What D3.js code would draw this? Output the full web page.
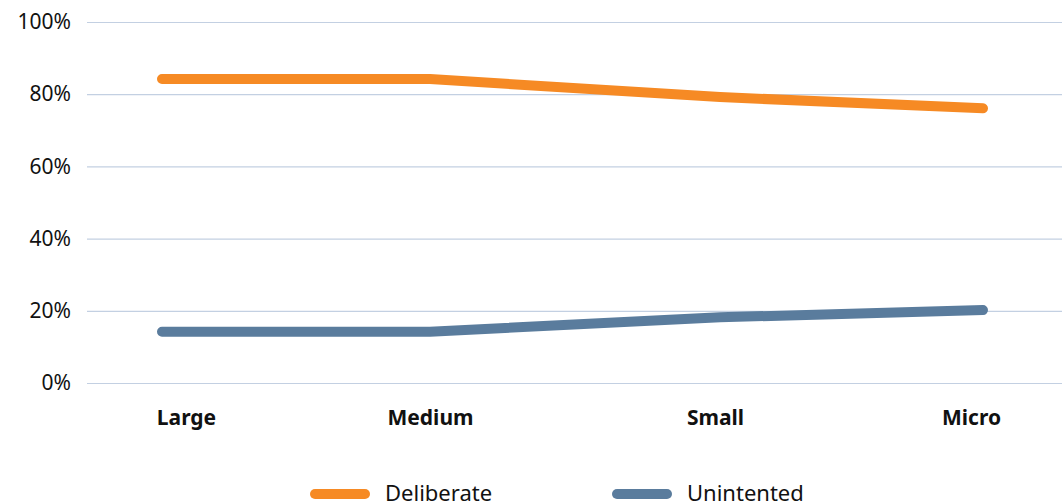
<!DOCTYPE html>
<html>
<head>
<meta charset="utf-8">
<script src="https://cdn.jsdelivr.net/npm/d3@7"></script>
<style>
  html, body { margin: 0; padding: 0; background: #fff; }
  svg { display: block; }
  text { font-family: "Noto Sans", "Open Sans", sans-serif; fill: #111; }
</style>
</head>
<body>
<svg id="chart" width="1062" height="504"></svg>
<script>
// Share of responses by company size
const categories = ["Large", "Medium", "Small", "Micro"];
const deliberate = [84.2, 84.2, 79.2, 76.1];
const unintented = [14.2, 14.2, 18.2, 20.2];
const yTicks = [0, 20, 40, 60, 80, 100];
const seriesNames = ["Deliberate", "Unintented"];
const seriesColors = ["#f68a24", "#5a7c9d"];

const svg = d3.select("#chart");
const W = 1062;
const plotLeft = 87, plotTop = 22, plotBottom = 383;
const fontStack = "'Noto Sans', 'Open Sans', sans-serif";

const y = d3.scaleLinear().domain([0, 100]).range([plotBottom, plotTop]);
// Category positions along the axis
const xPos = d3.scaleOrdinal().domain(categories).range([162, 430, 720, 983]);
const xLabel = d3.scaleOrdinal().domain(categories).range([186, 430, 715, 971]);

// Gridlines and y labels
const yAxis = d3.axisLeft(y).tickValues(yTicks).tickSize(-(W - plotLeft)).tickFormat(d => d + "%");
const gy = svg.append("g").attr("transform", `translate(${plotLeft},0)`).call(yAxis);
gy.select(".domain").remove();
gy.selectAll(".tick line").attr("stroke", "#c3d0e2").attr("stroke-width", 1.2);
gy.selectAll(".tick text").attr("x", -16).attr("font-size", 21)
  .attr("font-family", fontStack).attr("fill", "#111");

// Category labels
const xAxis = d3.axisBottom(xLabel).tickSize(0).tickPadding(0);
const gx = svg.append("g").attr("transform", `translate(0,${plotBottom + 27})`).call(xAxis);
gx.select(".domain").remove();
gx.selectAll(".tick text").attr("font-size", 21).attr("font-weight", "bold")
  .attr("font-family", fontStack).attr("fill", "#111");

// Lines
const line = d3.line().x((d, i) => xPos(categories[i])).y(d => y(d));
[deliberate, unintented].forEach((vals, k) => {
  svg.append("path").datum(vals)
    .attr("d", line)
    .attr("fill", "none")
    .attr("stroke", seriesColors[k])
    .attr("stroke-width", 10)
    .attr("stroke-linecap", "round")
    .attr("stroke-linejoin", "round");
});

// Legend
const legendX = [310, 612];
seriesNames.forEach((name, k) => {
  const g = svg.append("g").attr("transform", `translate(${legendX[k]},494)`);
  g.append("line").attr("x1", 5).attr("x2", 55).attr("y1", 0).attr("y2", 0)
    .attr("stroke", seriesColors[k]).attr("stroke-width", 10).attr("stroke-linecap", "round");
  g.append("text").attr("x", 75).attr("y", 7).attr("font-size", 22).text(name);
});
</script>
</body>
</html>
